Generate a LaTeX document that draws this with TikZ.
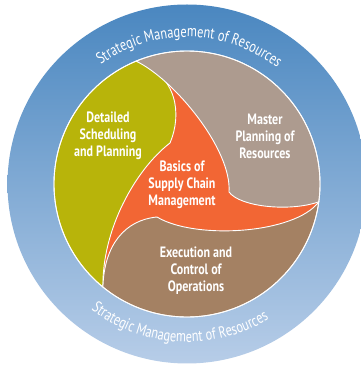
\documentclass[tikz,border=0pt]{standalone}
\usepackage{fontspec}
\setmainfont{PT Sans}
\newfontfamily\ringfont[FakeStretch=0.77]{PT Sans}
\newfontfamily\labelfont[FakeStretch=0.8]{PT Sans}
\usetikzlibrary{calc,decorations.text}
\definecolor{ringtop}{HTML}{4A87C0}
\definecolor{ringbot}{HTML}{B7CDE8}
\definecolor{greenblade}{HTML}{B8B40A}
\definecolor{grayblade}{HTML}{AD9B8F}
\definecolor{brownblade}{HTML}{A48163}
\definecolor{orangeblade}{HTML}{F26634}
\tikzset{
  blade/.style={draw=white, line width=0.9pt, line join=round},
  lbl/.style={text=white, align=center, inner sep=0pt,
    font=\labelfont\bfseries\fontsize{15}{17}\selectfont},
  ringtext/.style={decorate, decoration={text along path, text align=center,
    text={|\color{white}\ringfont\fontsize{16}{16}\selectfont|Strategic Management of Resources}}}
}
\begin{document}
\begin{tikzpicture}[x=1pt,y=1pt]
\useasboundingbox (0,0) rectangle (361,367);
\begin{scope}[shift={(0,367)}]
\coordinate (C) at (187,-184);
\shade[top color=ringtop, middle color=ringtop, bottom color=ringbot] (C) circle[radius=179.5];
\fill[orangeblade] (C) circle[radius=133];
\coordinate (P1) at ($(C)+(112.5:133)$);
\coordinate (P2) at ($(C)+(-7.7:133)$);
\coordinate (P3) at ($(C)+(230.8:133)$);
\coordinate (N1) at (170,-143);
\coordinate (N2) at (229,-192);
\coordinate (N3) at (157,-217);
% green
\path[blade, fill=greenblade] (P1) arc[start angle=112.5, end angle=230.8, radius=133]
  .. controls (102,-230) and (135,-170) .. (N1)
  .. controls (182,-115) and (178,-75) .. (P1) -- cycle;
% gray
\path[blade, fill=grayblade] (P2) arc[start angle=-7.7, end angle=112.5, radius=133]
  .. controls (175,-80) and (232,-150) .. (N2)
  .. controls (240,-207) and (290,-212) .. (P2) -- cycle;
% brown
\path[blade, fill=brownblade] (P3) arc[start angle=230.8, end angle=352.3, radius=133]
  .. controls (295,-234) and (195,-240) .. (N3)
  .. controls (125,-220) and (104,-245) .. (P3) -- cycle;
\draw[white, line width=0.9pt] (C) circle[radius=133];
% ring texts
\path[ringtext] ($(C)+(149:147)$) arc[start angle=149, end angle=29, radius=147];
\path[ringtext] ($(C)+(202:158)$) arc[start angle=202, end angle=332, radius=158];
% labels
\node[lbl] (dsp) at (108,-136) {Detailed\\Scheduling\\and Planning};
\node[lbl] (mpr) at (265,-136) {Master\\Planning of\\Resources};
\node[lbl] (scm) at (182,-185) {Basics of\\Supply Chain\\Management};
\node[lbl] (eco) at (196,-271) {Execution and\\Control of\\Operations};
\end{scope}
\end{tikzpicture}
\end{document}
